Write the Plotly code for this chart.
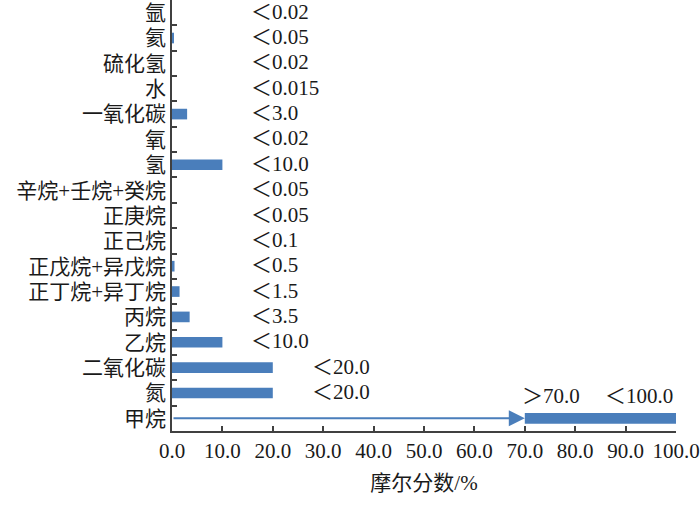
import plotly.graph_objects as go

# categories listed bottom-to-top
categories = ["甲烷", "氮", "二氧化碳", "乙烷", "丙烷", "正丁烷+异丁烷", "正戊烷+异戊烷",
              "正己烷", "正庚烷", "辛烷+壬烷+癸烷", "氢", "氧", "一氧化碳", "水",
              "硫化氢", "氦", "氩"]
values = [30.0, 20.0, 20.0, 10.0, 3.5, 1.5, 0.5, 0.0, 0.0, 0.0, 10.0, 0.0, 3.0, 0.0, 0.0, 0.4, 0.0]
bases = [70.0] + [0.0] * 16
limit_labels = ["＜100.0", "＜20.0", "＜20.0", "＜10.0", "＜3.5", "＜1.5", "＜0.5",
                "＜0.1", "＜0.05", "＜0.05", "＜10.0", "＜0.02", "＜3.0", "＜0.015",
                "＜0.02", "＜0.05", "＜0.02"]
methane_lower_label = "＞70.0"
x_ticks = [0, 10, 20, 30, 40, 50, 60, 70, 80, 90, 100]

BLUE = "#4a7ebb"
FONT = "Liberation Serif, Noto Sans CJK SC, serif"
AXC = "#404040"
TXT = "#1a1a1a"

fig = go.Figure()
fig.add_trace(go.Bar(
    y=categories, x=values, base=bases, orientation="h",
    marker=dict(color=BLUE, line=dict(width=0)), width=0.42,
    hoverinfo="skip", showlegend=False,
))

# value labels
for i, (cat, lab) in enumerate(zip(categories, limit_labels)):
    if i == 0:
        fig.add_annotation(x=85.5, y=cat, text=lab, showarrow=False, xanchor="left",
                           yshift=22, font=dict(family=FONT, size=21, color=TXT))
        fig.add_annotation(x=69.0, y=cat, text=methane_lower_label, showarrow=False,
                           xanchor="left", yshift=22, font=dict(family=FONT, size=21, color=TXT))
    else:
        xpos = 27.3 if values[i] >= 15 else 15.3
        fig.add_annotation(x=xpos, y=cat, text=lab, showarrow=False, xanchor="left",
                           yshift=1, font=dict(family=FONT, size=21, color=TXT))

# arrow from 0 to 70 on methane row
fig.add_annotation(x=bases[0], y=categories[0], ax=0, ay=categories[0],
                   xref="x", yref="y", axref="x", ayref="y", text="",
                   showarrow=True, arrowhead=2, arrowsize=1.6, arrowwidth=2,
                   arrowcolor=BLUE, standoff=0)

fig.update_layout(
    width=700, height=511,
    margin=dict(l=172, r=24, t=0, b=80),
    plot_bgcolor="white", paper_bgcolor="white",
    font=dict(family=FONT, size=21, color=TXT),
)
fig.update_xaxes(
    range=[0, 100], tickvals=x_ticks, tickformat=".1f",
    ticks="inside", ticklen=5, tickcolor=AXC, tickwidth=1.5,
    showline=True, linecolor=AXC, linewidth=1.5, showgrid=False, zeroline=False,
    tickfont=dict(family=FONT, size=21, color=TXT),
    title=dict(text="摩尔分数/%", font=dict(family=FONT, size=21, color=TXT), standoff=13),
)
fig.update_yaxes(
    type="category", categoryorder="array", categoryarray=categories,
    range=[-0.5, 16.5], tickson="boundaries",
    ticks="inside", ticklen=5, tickcolor=AXC, tickwidth=1.5,
    showline=True, linecolor=AXC, linewidth=1.5, showgrid=False,
    tickfont=dict(family=FONT, size=21, color=TXT),
)

fig.write_html("out.html", config={"displayModeBar": False},
               post_script="document.body.style.margin='0';document.body.style.overflow='hidden';")
